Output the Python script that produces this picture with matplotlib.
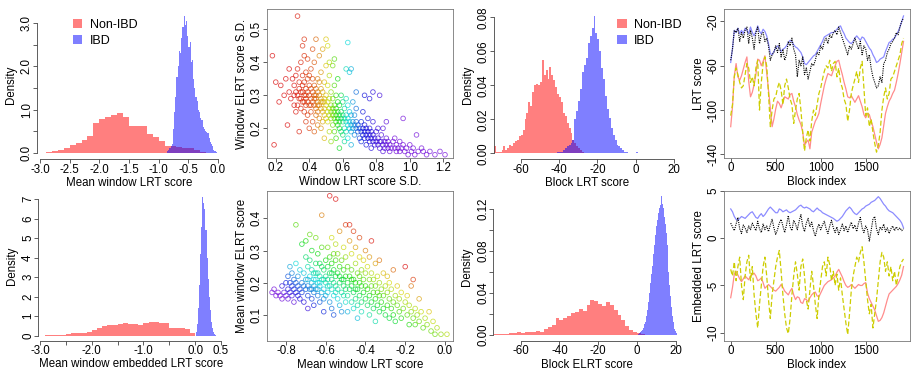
import numpy as np
import matplotlib
matplotlib.use("Agg")
import matplotlib.pyplot as plt
from matplotlib.patches import Patch
from matplotlib.colors import hsv_to_rgb

plt.rcParams['font.family'] = ['Liberation Sans', 'DejaVu Sans']
plt.rcParams['axes.unicode_minus'] = False

W, H = 911, 373
FS = 8.3
AX_COL = '#444444'
RED = (1, 0, 0, 0.5)
BLUE = (0, 0, 1, 0.5)
legend_labels = ['Non-IBD', 'IBD']

# ---------------- Panel 1: Mean window LRT score histogram ----------------
p1_nonibd_start, p1_nonibd_width = -3.0, 0.1
p1_nonibd = [0.01, 0.02, 0.04, 0.06, 0.12, 0.18, 0.22, 0.31, 0.39, 0.70,
             0.79, 0.83, 0.87, 0.92, 0.83, 0.63, 0.63, 0.62, 0.44, 0.36,
             0.28, 0.17, 0.16, 0.13, 0.12, 0.12, 0.08, 0.02]
p1_ibd_start, p1_ibd_width = -0.86, 0.02
p1_ibd = [0.04, 0.08, 0.12, 0.15, 0.20, 0.55, 0.95, 1.30, 1.75, 2.00,
          2.35, 2.30, 2.65, 2.90, 3.15, 2.95, 3.05, 2.70, 2.45, 2.55,
          2.10, 2.15, 1.70, 1.50, 1.30, 1.20, 1.00, 0.95, 0.80, 0.75,
          0.60, 0.55, 0.50, 0.48, 0.45, 0.35, 0.25, 0.20, 0.15, 0.08,
          0.05, 0.02]
p1_xticks = [-3.0, -2.5, -2.0, -1.5, -1.0, -0.5, 0.0]
p1_xticklabels = ['-3.0', '-2.5', '-2.0', '-1.5', '-1.0', '-0.5', '0.0']
p1_yticks = [0.0, 0.5, 1.0, 1.5, 2.0, 2.5, 3.0]
p1_yticklabels = ['0.0', '', '1.0', '', '2.0', '', '3.0']

# ---------------- Panel 3: Block LRT score histogram ----------------
p3_nonibd_start, p3_nonibd_width = -74, 1
p3_nonibd = [0.004, 0.001, 0.001, 0.001, 0.002, 0.004, 0.002, 0.003, 0.005, 0.004,
             0.006, 0.007, 0.008, 0.010, 0.011, 0.014, 0.020, 0.024, 0.030, 0.028,
             0.036, 0.040, 0.041, 0.040, 0.042, 0.055, 0.046, 0.049, 0.044, 0.051,
             0.046, 0.043, 0.039, 0.035, 0.033, 0.030, 0.024, 0.022, 0.018, 0.015,
             0.012, 0.008, 0.006, 0.004, 0.003, 0.002, 0.001]
p3_ibd_start, p3_ibd_width = -41, 1
p3_ibd = [0.0005, 0.001, 0.001, 0.002, 0.003, 0.004, 0.005, 0.006, 0.008, 0.020,
          0.025, 0.031, 0.038, 0.048, 0.052, 0.056, 0.065, 0.069, 0.074, 0.081,
          0.071, 0.067, 0.060, 0.050, 0.044, 0.034, 0.026, 0.021, 0.015, 0.011,
          0.008, 0.005, 0.004, 0.003, 0.002, 0.001, 0.001, 0.0, 0.0, 0.0,
          0.0, 0.001]
p3_xticks = [-60, -40, -20, 0, 20]
p3_xticklabels = ['-60', '-40', '-20', '0', '20']
p3_yticks = [0.00, 0.02, 0.04, 0.06, 0.08]
p3_yticklabels = ['0.00', '0.02', '0.04', '0.06', '0.08']

# ---------------- Panel 5: Mean window embedded LRT score histogram ----------------
p5_nonibd_start, p5_nonibd_width = -3.0, 0.1
p5_nonibd = [0.01, 0.015, 0.02, 0.025, 0.03, 0.10, 0.12, 0.13, 0.16, 0.21,
             0.27, 0.38, 0.50, 0.55, 0.55, 0.58, 0.63, 0.60, 0.62, 0.56,
             0.66, 0.70, 0.70, 0.64, 0.63, 0.42, 0.41, 0.41, 0.32, 0.12]
p5_ibd_start, p5_ibd_width = 0.02, 0.02
p5_ibd = [0.2, 0.6, 1.4, 2.6, 4.2, 5.6, 7.1, 6.8, 6.5, 5.4,
          4.0, 2.9, 2.0, 1.3, 0.7, 0.4, 0.2, 0.1, 0.05]
p5_xticks = [-3.0, -2.5, -2.0, -1.5, -1.0, -0.5, 0.0, 0.5]
p5_xticklabels = ['-3.0', '', '-2.0', '', '-1.0', '', '0.0', '0.5']
p5_yticks = [0, 1, 2, 3, 4, 5, 6, 7]
p5_yticklabels = ['0', '1', '2', '3', '4', '5', '6', '7']

# ---------------- Panel 7: Block ELRT score histogram ----------------
p7_nonibd_start, p7_nonibd_width = -74, 2
p7_nonibd = [0.0005, 0.0005, 0.001, 0.001, 0.0015, 0.002, 0.0025, 0.0015, 0.0025, 0.0025,
             0.003, 0.004, 0.003, 0.006, 0.008, 0.0095, 0.016, 0.014, 0.016, 0.018,
             0.021, 0.022, 0.025, 0.023, 0.029, 0.033, 0.032, 0.030, 0.028, 0.031,
             0.029, 0.024, 0.019, 0.014, 0.009, 0.005, 0.003, 0.002, 0.001]
p7_ibd_start, p7_ibd_width = 0.75, 0.5
p7_ibd = [0.001, 0.002, 0.003, 0.004, 0.005, 0.007, 0.010, 0.012,
          0.018, 0.024, 0.031, 0.040, 0.050, 0.058, 0.066, 0.077,
          0.086, 0.095, 0.104, 0.110, 0.116, 0.121, 0.124, 0.132,
          0.125, 0.121, 0.112, 0.106, 0.097, 0.086, 0.072, 0.060,
          0.048, 0.037, 0.027, 0.018, 0.012, 0.006, 0.004, 0.002]
p7_xticks = [-60, -40, -20, 0, 20]
p7_xticklabels = ['-60', '-40', '-20', '0', '20']
p7_yticks = [0.00, 0.02, 0.04, 0.06, 0.08, 0.10, 0.12]
p7_yticklabels = ['0.00', '', '0.04', '', '0.08', '', '0.12']

# ---------------- Panel 2: scatter of S.D.s ----------------
window_sd_pairs = [
    (0.18, 0.42), (0.19, 0.15), (0.20, 0.34), (0.22, 0.28), (0.23, 0.33), (0.25, 0.30),
    (0.26, 0.35), (0.27, 0.21), (0.28, 0.31), (0.28, 0.38), (0.29, 0.29), (0.30, 0.35),
    (0.31, 0.33), (0.31, 0.27), (0.32, 0.36), (0.32, 0.25), (0.33, 0.30), (0.33, 0.54),
    (0.33, 0.38), (0.34, 0.29), (0.34, 0.34), (0.34, 0.19), (0.35, 0.31), (0.35, 0.26),
    (0.35, 0.40), (0.36, 0.28), (0.36, 0.33), (0.36, 0.36), (0.36, 0.45), (0.37, 0.30),
    (0.37, 0.25), (0.37, 0.34), (0.37, 0.47), (0.37, 0.42), (0.38, 0.29), (0.38, 0.32),
    (0.38, 0.22), (0.38, 0.37), (0.38, 0.27), (0.39, 0.31), (0.39, 0.28), (0.39, 0.35),
    (0.39, 0.24), (0.39, 0.41), (0.40, 0.30), (0.40, 0.27), (0.40, 0.33), (0.40, 0.20),
    (0.40, 0.36), (0.31, 0.30), (0.32, 0.31), (0.33, 0.27), (0.34, 0.32), (0.35, 0.29),
    (0.36, 0.31), (0.37, 0.28), (0.38, 0.30),
    (0.41, 0.29), (0.41, 0.32), (0.41, 0.25), (0.41, 0.38), (0.42, 0.28), (0.42, 0.31),
    (0.42, 0.22), (0.42, 0.35), (0.42, 0.44), (0.43, 0.27), (0.43, 0.30), (0.43, 0.33),
    (0.43, 0.19), (0.43, 0.40), (0.44, 0.26), (0.44, 0.29), (0.44, 0.32), (0.44, 0.24),
    (0.44, 0.47), (0.45, 0.28), (0.45, 0.25), (0.45, 0.31), (0.45, 0.35), (0.45, 0.21),
    (0.46, 0.27), (0.46, 0.30), (0.46, 0.23), (0.46, 0.34), (0.46, 0.42), (0.47, 0.26),
    (0.47, 0.29), (0.47, 0.32), (0.47, 0.20), (0.47, 0.37), (0.48, 0.25), (0.48, 0.28),
    (0.48, 0.31), (0.48, 0.22), (0.48, 0.44), (0.49, 0.26), (0.49, 0.29), (0.49, 0.24),
    (0.49, 0.34), (0.49, 0.17), (0.50, 0.27), (0.50, 0.30), (0.50, 0.23), (0.50, 0.47),
    (0.50, 0.39), (0.41, 0.27), (0.43, 0.29), (0.45, 0.27), (0.47, 0.28), (0.49, 0.28),
    (0.44, 0.30),
    (0.51, 0.25), (0.51, 0.28), (0.51, 0.22), (0.51, 0.33), (0.51, 0.45), (0.52, 0.26),
    (0.52, 0.24), (0.52, 0.29), (0.52, 0.19), (0.52, 0.36), (0.53, 0.25), (0.53, 0.27),
    (0.53, 0.23), (0.53, 0.31), (0.53, 0.16), (0.54, 0.24), (0.54, 0.26), (0.54, 0.21),
    (0.54, 0.29), (0.54, 0.39), (0.55, 0.25), (0.55, 0.23), (0.55, 0.27), (0.55, 0.19),
    (0.55, 0.33), (0.56, 0.24), (0.56, 0.22), (0.56, 0.26), (0.56, 0.30), (0.56, 0.17),
    (0.57, 0.23), (0.57, 0.25), (0.57, 0.21), (0.57, 0.28), (0.57, 0.35), (0.58, 0.24),
    (0.58, 0.22), (0.58, 0.20), (0.58, 0.27), (0.58, 0.14), (0.59, 0.23), (0.59, 0.25),
    (0.59, 0.19), (0.59, 0.30), (0.60, 0.22), (0.60, 0.24), (0.60, 0.18), (0.60, 0.28),
    (0.52, 0.40), (0.55, 0.41),
    (0.61, 0.23), (0.61, 0.20), (0.61, 0.26), (0.61, 0.16), (0.62, 0.22), (0.62, 0.24),
    (0.62, 0.19), (0.62, 0.29), (0.62, 0.38), (0.63, 0.21), (0.63, 0.23), (0.63, 0.17),
    (0.63, 0.46), (0.63, 0.27), (0.64, 0.22), (0.64, 0.20), (0.64, 0.25), (0.64, 0.37),
    (0.65, 0.21), (0.65, 0.19), (0.65, 0.24), (0.65, 0.15), (0.66, 0.22), (0.66, 0.20),
    (0.66, 0.28), (0.67, 0.21), (0.67, 0.18), (0.67, 0.24), (0.68, 0.20), (0.68, 0.22),
    (0.68, 0.26), (0.69, 0.19), (0.69, 0.21), (0.70, 0.20), (0.70, 0.17),
    (0.71, 0.19), (0.71, 0.22), (0.71, 0.16), (0.72, 0.20), (0.72, 0.18), (0.72, 0.25),
    (0.73, 0.19), (0.73, 0.17), (0.73, 0.21), (0.73, 0.30), (0.74, 0.18), (0.74, 0.20),
    (0.74, 0.15), (0.75, 0.19), (0.75, 0.17), (0.75, 0.23), (0.76, 0.18), (0.76, 0.16),
    (0.76, 0.20), (0.76, 0.29), (0.77, 0.17), (0.77, 0.19), (0.77, 0.14), (0.78, 0.18),
    (0.78, 0.16), (0.78, 0.22), (0.79, 0.17), (0.79, 0.15), (0.80, 0.16), (0.80, 0.19),
    (0.81, 0.17), (0.81, 0.15), (0.81, 0.20), (0.82, 0.16), (0.82, 0.14), (0.82, 0.30),
    (0.83, 0.16), (0.83, 0.18), (0.84, 0.15), (0.84, 0.13), (0.84, 0.20), (0.85, 0.16),
    (0.85, 0.14), (0.86, 0.15), (0.86, 0.17), (0.86, 0.22), (0.87, 0.14), (0.87, 0.16),
    (0.88, 0.15), (0.88, 0.13), (0.89, 0.14), (0.90, 0.16),
    (0.91, 0.14), (0.91, 0.17), (0.92, 0.13), (0.92, 0.15), (0.93, 0.14), (0.94, 0.16),
    (0.94, 0.13), (0.95, 0.14), (0.96, 0.23), (0.96, 0.15), (0.97, 0.13), (0.98, 0.14),
    (0.99, 0.12), (1.00, 0.15),
    (1.01, 0.13), (1.02, 0.14), (1.03, 0.12), (1.04, 0.18), (1.05, 0.13), (1.07, 0.14),
    (1.08, 0.13), (1.10, 0.12), (1.12, 0.13), (1.15, 0.12), (1.18, 0.13), (1.21, 0.12),
    (0.68, 0.31), (0.78, 0.31), (0.65, 0.38),
]
p2_xticks = [0.2, 0.4, 0.6, 0.8, 1.0, 1.2]
p2_xticklabels = ['0.2', '0.4', '0.6', '0.8', '1.0', '1.2']
p2_yticks = [0.2, 0.3, 0.4, 0.5]
p2_yticklabels = ['0.2', '0.3', '0.4', '0.5']

# ---------------- Panel 6: scatter of window means ----------------
window_mean_pairs = [
    (-0.87, 0.17), (-0.86, 0.18), (-0.85, 0.16), (-0.84, 0.17), (-0.83, 0.16), (-0.82, 0.15),
    (-0.82, 0.19), (-0.81, 0.17), (-0.80, 0.20), (-0.80, 0.16),
    (-0.79, 0.18), (-0.79, 0.15), (-0.79, 0.22), (-0.78, 0.17), (-0.78, 0.20), (-0.78, 0.25),
    (-0.77, 0.16), (-0.77, 0.19), (-0.77, 0.23), (-0.76, 0.18), (-0.76, 0.14), (-0.76, 0.21),
    (-0.75, 0.17), (-0.75, 0.38), (-0.75, 0.20), (-0.75, 0.26), (-0.74, 0.16), (-0.74, 0.19),
    (-0.74, 0.22), (-0.73, 0.15), (-0.73, 0.18), (-0.73, 0.24), (-0.72, 0.17), (-0.72, 0.20),
    (-0.72, 0.32), (-0.71, 0.14), (-0.71, 0.19), (-0.71, 0.23), (-0.70, 0.18), (-0.70, 0.28),
    (-0.70, 0.21), (-0.70, 0.33), (-0.69, 0.16), (-0.69, 0.19), (-0.69, 0.25), (-0.69, 0.12),
    (-0.68, 0.18), (-0.68, 0.22), (-0.68, 0.27), (-0.68, 0.35), (-0.67, 0.15), (-0.67, 0.20),
    (-0.67, 0.24), (-0.67, 0.30), (-0.66, 0.17), (-0.66, 0.19), (-0.66, 0.23), (-0.66, 0.13),
    (-0.65, 0.21), (-0.65, 0.18), (-0.65, 0.26), (-0.65, 0.34), (-0.64, 0.16), (-0.64, 0.20),
    (-0.64, 0.23), (-0.64, 0.29), (-0.63, 0.14), (-0.63, 0.19), (-0.63, 0.22), (-0.63, 0.26),
    (-0.62, 0.17), (-0.62, 0.21), (-0.62, 0.41), (-0.62, 0.31), (-0.61, 0.15), (-0.61, 0.18),
    (-0.61, 0.24), (-0.61, 0.11), (-0.60, 0.20), (-0.60, 0.22), (-0.60, 0.27), (-0.60, 0.16),
    (-0.69, 0.21), (-0.67, 0.18), (-0.65, 0.23), (-0.63, 0.20), (-0.61, 0.21), (-0.62, 0.25),
    (-0.66, 0.21), (-0.64, 0.18),
    (-0.59, 0.17), (-0.59, 0.21), (-0.59, 0.25), (-0.59, 0.31), (-0.58, 0.14), (-0.58, 0.19),
    (-0.58, 0.23), (-0.58, 0.28), (-0.58, 0.47), (-0.57, 0.12), (-0.57, 0.18), (-0.57, 0.21),
    (-0.57, 0.26), (-0.57, 0.34), (-0.56, 0.16), (-0.56, 0.20), (-0.56, 0.24), (-0.56, 0.10),
    (-0.55, 0.19), (-0.55, 0.22), (-0.55, 0.27), (-0.55, 0.32), (-0.55, 0.46), (-0.54, 0.15),
    (-0.54, 0.18), (-0.54, 0.23), (-0.54, 0.29), (-0.53, 0.13), (-0.53, 0.20), (-0.53, 0.25),
    (-0.53, 0.36), (-0.52, 0.17), (-0.52, 0.21), (-0.52, 0.27), (-0.52, 0.11), (-0.51, 0.16),
    (-0.51, 0.19), (-0.51, 0.24), (-0.51, 0.31), (-0.50, 0.14), (-0.50, 0.18), (-0.50, 0.22),
    (-0.50, 0.28), (-0.50, 0.38), (-0.59, 0.19), (-0.57, 0.23), (-0.55, 0.17), (-0.53, 0.22),
    (-0.51, 0.21), (-0.56, 0.29),
    (-0.49, 0.16), (-0.49, 0.20), (-0.49, 0.25), (-0.49, 0.11), (-0.48, 0.18), (-0.48, 0.22),
    (-0.48, 0.33), (-0.48, 0.38), (-0.47, 0.14), (-0.47, 0.19), (-0.47, 0.24), (-0.47, 0.29),
    (-0.46, 0.12), (-0.46, 0.17), (-0.46, 0.21), (-0.46, 0.36), (-0.45, 0.15), (-0.45, 0.20),
    (-0.45, 0.26), (-0.45, 0.31), (-0.44, 0.13), (-0.44, 0.18), (-0.44, 0.23), (-0.44, 0.09),
    (-0.43, 0.16), (-0.43, 0.20), (-0.43, 0.28), (-0.43, 0.34), (-0.42, 0.14), (-0.42, 0.19),
    (-0.42, 0.24), (-0.42, 0.11), (-0.41, 0.17), (-0.41, 0.21), (-0.41, 0.27), (-0.40, 0.15),
    (-0.40, 0.19), (-0.40, 0.23), (-0.40, 0.30), (-0.47, 0.21), (-0.45, 0.18), (-0.43, 0.22),
    (-0.39, 0.13), (-0.39, 0.18), (-0.39, 0.25), (-0.38, 0.16), (-0.38, 0.21), (-0.38, 0.10),
    (-0.38, 0.28), (-0.37, 0.14), (-0.37, 0.19), (-0.37, 0.23), (-0.37, 0.33), (-0.36, 0.12),
    (-0.36, 0.17), (-0.36, 0.21), (-0.35, 0.15), (-0.35, 0.19), (-0.35, 0.26), (-0.35, 0.08),
    (-0.34, 0.13), (-0.34, 0.17), (-0.34, 0.22), (-0.33, 0.11), (-0.33, 0.16), (-0.33, 0.20),
    (-0.33, 0.27), (-0.32, 0.14), (-0.32, 0.18), (-0.31, 0.12), (-0.31, 0.16), (-0.31, 0.23),
    (-0.30, 0.10), (-0.30, 0.19),
    (-0.29, 0.13), (-0.29, 0.17), (-0.29, 0.22), (-0.28, 0.09), (-0.28, 0.15), (-0.28, 0.20),
    (-0.27, 0.12), (-0.27, 0.18), (-0.26, 0.10), (-0.26, 0.14), (-0.26, 0.24), (-0.25, 0.16),
    (-0.25, 0.08), (-0.24, 0.13), (-0.24, 0.19), (-0.23, 0.11), (-0.23, 0.15), (-0.22, 0.09),
    (-0.22, 0.17), (-0.21, 0.12), (-0.20, 0.25), (-0.20, 0.14),
    (-0.19, 0.10), (-0.19, 0.16), (-0.18, 0.07), (-0.18, 0.13), (-0.17, 0.19), (-0.17, 0.11),
    (-0.16, 0.09), (-0.16, 0.21), (-0.15, 0.12), (-0.15, 0.07), (-0.14, 0.10), (-0.13, 0.15),
    (-0.13, 0.08), (-0.12, 0.11), (-0.11, 0.06), (-0.10, 0.09),
    (-0.09, 0.07), (-0.08, 0.11), (-0.07, 0.05), (-0.06, 0.08), (-0.05, 0.04), (-0.04, 0.06),
    (-0.02, 0.04), (0.01, 0.04),
]
p6_xticks = [-0.8, -0.6, -0.4, -0.2, 0.0]
p6_xticklabels = ['-0.8', '-0.6', '-0.4', '-0.2', '0.0']
p6_yticks = [0.1, 0.2, 0.3, 0.4]
p6_yticklabels = ['0.1', '0.2', '0.3', '0.4']

# ---------------- Panels 4 and 8: scores along the chromosome ----------------
block_index = list(range(0, 1921, 20))

lrt_blue = [-57, -44, -28, -30, -26, -31, -28, -31, -26, -28,
            -31, -25, -30, -33, -29, -24, -29, -31, -27, -29,
            -33, -40, -49, -50, -47, -44, -42, -44, -47, -45,
            -44, -42, -39, -37, -38, -41, -43, -44, -46, -48,
            -52, -58, -59, -57, -55, -53, -51, -50, -47, -44,
            -41, -38, -34, -33, -32, -31, -30, -30, -29, -27,
            -25, -24, -28, -31, -35, -37, -39, -40, -38, -35,
            -33, -35, -37, -34, -35, -38, -41, -44, -46, -50,
            -53, -57, -56, -54, -53, -52, -47, -43, -39, -38,
            -36, -35, -32, -29, -25, -20, -15]
lrt_black = [-55, -45, -28, -30, -26, -38, -30, -35, -28, -25,
             -40, -28, -35, -45, -30, -25, -40, -32, -30, -38,
             -35, -42, -55, -50, -48, -42, -48, -40, -52, -45,
             -55, -50, -38, -42, -35, -45, -50, -70, -55, -60,
             -52, -68, -62, -72, -65, -58, -60, -55, -48, -50,
             -42, -45, -38, -35, -40, -32, -35, -30, -28, -32,
             -25, -30, -35, -40, -45, -50, -42, -45, -40, -35,
             -40, -45, -38, -50, -42, -45, -55, -50, -62, -70,
             -75, -80, -78, -70, -75, -58, -55, -48, -45, -40,
             -38, -35, -30, -32, -25, -20, -17]
lrt_red = [-115, -97, -69, -58, -70, -73, -69, -63, -57, -52,
           -74, -88, -84, -77, -68, -54, -55, -60, -56, -51,
           -66, -82, -98, -115, -108, -99, -92, -94, -98, -93,
           -88, -89, -90, -86, -85, -92, -97, -104, -109, -113,
           -120, -132, -129, -127, -135, -120, -115, -110, -107, -103,
           -94, -86, -78, -72, -67, -68, -69, -64, -60, -56,
           -55, -62, -68, -75, -81, -88, -89, -87, -90, -93,
           -90, -87, -92, -97, -104, -107, -103, -104, -110, -115,
           -122, -129, -135, -131, -125, -114, -103, -97, -92, -89,
           -85, -82, -75, -67, -58, -48, -38]
lrt_yellow = [-105, -95, -70, -62, -68, -75, -80, -78, -68, -58,
              -62, -75, -70, -78, -62, -55, -100, -75, -58, -52,
              -60, -85, -115, -100, -90, -88, -80, -75, -82, -95,
              -78, -72, -80, -90, -95, -112, -100, -90, -85, -100,
              -120, -137, -125, -118, -128, -110, -100, -105, -95, -85,
              -80, -72, -65, -60, -62, -55, -65, -58, -56, -70,
              -62, -75, -80, -90, -95, -110, -100, -85, -78, -72,
              -65, -75, -62, -56, -80, -105, -98, -115, -108, -120,
              -130, -138, -132, -120, -100, -88, -80, -90, -85, -72,
              -70, -65, -60, -55, -50, -40, -35]

elrt_blue = [3.1, 2.8, 2.3, 2.0, 1.9, 2.1, 2.3, 2.2, 2.1, 2.3,
             2.5, 2.7, 2.8, 2.5, 2.2, 2.1, 2.4, 2.6, 2.3, 2.5,
             2.8, 3.1, 3.3, 3.1, 2.9, 2.7, 2.7, 3.1, 3.0, 2.8,
             2.9, 3.0, 2.8, 2.7, 2.8, 2.9, 3.0, 3.2, 3.4, 3.5,
             3.3, 3.2, 3.3, 3.2, 3.1, 2.9, 2.8, 3.0, 3.2, 3.0,
             2.9, 2.7, 2.6, 2.5, 2.4, 2.3, 2.2, 2.1, 1.95, 1.8,
             1.9, 2.1, 2.3, 2.6, 2.9, 3.1, 3.3, 3.1, 2.8, 2.6,
             2.5, 2.7, 2.9, 3.1, 3.2, 3.4, 3.5, 3.6, 3.8, 3.9,
             4.0, 4.2, 4.4, 4.2, 3.9, 3.6, 3.4, 3.1, 2.9, 2.8,
             2.7, 2.5, 2.3, 2.1, 1.9, 1.6, 1.1]
elrt_black = [1.6, 1.2, 0.8, 1.5, 2.2, 1.0, 0.5, 1.4, 1.1, 0.6,
              1.3, 0.9, 1.6, 1.2, 0.8, 1.8, 1.0, 0.6, 1.5, 0.9,
              1.3, 0.7, 1.4, 2.0, 1.1, 0.4, 0.9, 1.6, 2.0, 1.3,
              0.6, 1.4, 2.4, 1.2, 0.8, 1.9, 1.5, 0.9, 1.8, 2.5,
              1.3, 0.7, 1.6, 2.1, 1.2, 1.7, 0.8, 0.2, 1.0, 1.5,
              0.9, 1.4, 1.8, 1.0, 0.5, 1.3, 1.9, 1.1, 0.6, 1.2,
              0.4, 0.9, 1.5, 0.8, 1.3, 0.6, 1.2, 1.7, 1.0, 1.4,
              0.7, 1.6, 2.2, 1.1, 0.6, 1.3, 0.9, -0.3, 0.8, 2.0,
              2.3, 1.0, 0.4, 1.2, 0.9, 1.5, 0.7, 1.1, 0.5, 1.0,
              1.3, 0.8, 1.2, 0.9, 1.1, 0.8, 1.0]
elrt_red = [-6.3, -5.2, -3.8, -3.5, -3.9, -4.3, -4.6, -4.3, -4.0, -4.2,
            -4.4, -4.0, -3.8, -3.7, -4.0, -4.5, -4.4, -4.2, -4.7, -5.3,
            -5.1, -4.9, -5.1, -5.3, -5.5, -5.6, -5.4, -5.2, -4.9, -5.2,
            -5.6, -5.8, -6.0, -5.6, -5.3, -6.0, -6.5, -6.2, -6.3, -6.8,
            -6.9, -6.4, -6.5, -6.7, -6.3, -6.0, -5.8, -5.7, -6.1, -6.2,
            -5.8, -5.4, -5.0, -4.8, -4.6, -4.5, -4.4, -4.2, -4.0, -3.6,
            -3.3, -3.7, -4.1, -4.6, -5.0, -5.2, -5.1, -4.9, -5.1, -5.3,
            -5.1, -4.9, -5.0, -5.0, -4.8, -4.7, -5.8, -6.4, -6.8, -7.2,
            -7.6, -8.2, -8.8, -8.7, -8.4, -7.9, -7.2, -6.5, -5.9, -5.7,
            -5.5, -5.3, -5.1, -4.8, -4.4, -3.9, -3.0]
elrt_yellow = [-3.3, -4.0, -2.5, -4.5, -3.0, -2.0, -5.0, -6.5, -4.0, -2.5,
               -1.8, -4.5, -3.0, -6.0, -8.0, -9.5, -7.0, -5.0, -3.0, -2.0,
               -4.0, -6.5, -8.5, -6.0, -4.5, -3.0, -2.0, -1.3, -3.5, -6.0,
               -8.0, -9.5, -10.1, -8.5, -6.0, -4.0, -2.5, -3.8, -5.5, -3.0,
               -2.2, -4.0, -6.5, -7.5, -5.5, -3.5, -5.0, -7.0, -8.5, -6.0,
               -4.5, -3.0, -2.5, -4.0, -2.0, -2.8, -4.5, -3.5, -5.0, -3.8,
               -5.5, -4.2, -6.0, -7.5, -9.0, -10.2, -8.0, -5.5, -4.0, -3.0,
               -2.0, -2.5, -1.5, -0.9, -2.5, -4.5, -6.5, -8.0, -7.0, -9.5,
               -8.0, -6.5, -4.5, -2.5, -1.5, -2.0, -3.5, -2.5, -4.0, -3.0,
               -4.5, -3.5, -5.0, -4.0, -3.0, -2.5, -2.2]
line_xticks = [0, 500, 1000, 1500]
line_xticklabels = ['0', '500', '1000', '1500']
p4_yticks = [-140, -100, -60, -20]
p4_yticklabels = ['-140', '-100', '-60', '-20']
p8_yticks = [-10, -5, 0, 5]
p8_yticklabels = ['-10', '-5', '0', '5']

# =====================================================================
fig = plt.figure(figsize=(W / 100, H / 100), dpi=100)


def rect(l, t, r, b):
    return [l / W, 1 - b / H, (r - l) / W, (b - t) / H]


def setup_ticks(ax, xt, xl, yt, yl):
    ax.set_xticks(xt)
    ax.set_xticklabels(xl)
    ax.set_yticks(yt)
    ax.set_yticklabels(yl, rotation=90, va='center')
    ax.tick_params(direction='out', length=3.0, width=0.6, color=AX_COL,
                   labelsize=FS, pad=0.3)
    ax.tick_params(axis='y', pad=0)


def hist_panel(pos, xlim, ylim, series, xt, xl, yt, yl, xlabel):
    ax = fig.add_axes(rect(*pos))
    for (start, width, heights), col in series:
        edges = start + width * np.arange(len(heights) + 1)
        ax.stairs(heights, edges, fill=True, color=col, linewidth=0)
    ax.set_xlim(xlim)
    ax.set_ylim(ylim)
    for s in ['top', 'right']:
        ax.spines[s].set_visible(False)
    for s in ['left', 'bottom']:
        ax.spines[s].set_color(AX_COL)
        ax.spines[s].set_linewidth(0.6)
    ax.spines['left'].set_bounds(yt[0], yt[-1])
    ax.spines['bottom'].set_bounds(xt[0], xt[-1])
    setup_ticks(ax, xt, xl, yt, yl)
    ax.set_xlabel(xlabel, fontsize=FS, labelpad=1)
    ax.set_ylabel('Density', fontsize=FS, labelpad=3)
    return ax


def box_panel(pos, xlim, ylim, xt, xl, yt, yl, xlabel, ylabel, ylp=2):
    ax = fig.add_axes(rect(*pos))
    ax.set_xlim(xlim)
    ax.set_ylim(ylim)
    for s in ax.spines.values():
        s.set_color('#777777')
        s.set_linewidth(0.6)
    setup_ticks(ax, xt, xl, yt, yl)
    ax.set_xlabel(xlabel, fontsize=FS, labelpad=1)
    ax.set_ylabel(ylabel, fontsize=FS, labelpad=ylp)
    return ax


def legend(ax, anchor):
    handles = [Patch(facecolor=RED, edgecolor='none', label=legend_labels[0]),
               Patch(facecolor=BLUE, edgecolor='none', label=legend_labels[1])]
    ax.legend(handles=handles, loc='upper left', bbox_to_anchor=anchor,
              frameon=False, fontsize=FS + 0.7, handlelength=0.75, handleheight=0.75,
              handletextpad=0.6, labelspacing=0.3, borderaxespad=0, borderpad=0)


# Panel 1
ax1 = hist_panel((37, 10, 221, 159), (-3.0506, 0.0506), (-0.1385, 3.3),
                 [((p1_nonibd_start, p1_nonibd_width, p1_nonibd), RED),
                  ((p1_ibd_start, p1_ibd_width, p1_ibd), BLUE)],
                 p1_xticks, p1_xticklabels, p1_yticks, p1_yticklabels,
                 'Mean window LRT score')
legend(ax1, (0.194, 0.94))

# Panel 3
ax3 = hist_panel((494, 10, 680, 159.3), (-73.93, 23.1), (-0.00353, 0.0843),
                 [((p3_nonibd_start, p3_nonibd_width, p3_nonibd), RED),
                  ((p3_ibd_start, p3_ibd_width, p3_ibd), BLUE)],
                 p3_xticks, p3_xticklabels, p3_yticks, p3_yticklabels,
                 'Block LRT score')
legend(ax3, (0.663, 0.94))

# Panel 5
ax5 = hist_panel((38.3, 192, 223, 340.5), (-3.033, 0.539), (-0.246, 7.37),
                 [((p5_nonibd_start, p5_nonibd_width, p5_nonibd), RED),
                  ((p5_ibd_start, p5_ibd_width, p5_ibd), BLUE)],
                 p5_xticks, p5_xticklabels, p5_yticks, p5_yticklabels,
                 'Mean window embedded LRT score')

# Panel 7
ax7 = hist_panel((493.3, 192, 680, 340.7), (-74.14, 22.2), (-0.00543, 0.1362),
                 [((p7_nonibd_start, p7_nonibd_width, p7_nonibd), RED),
                  ((p7_ibd_start, p7_ibd_width, p7_ibd), BLUE)],
                 p7_xticks, p7_xticklabels, p7_yticks, p7_yticklabels,
                 'Block ELRT score')

# Panel 2 scatter
ax2 = box_panel((266.7, 9.3, 452.7, 157.7), (0.146, 1.256), (0.111, 0.5606),
                p2_xticks, p2_xticklabels, p2_yticks, p2_yticklabels,
                'Window LRT score S.D.', 'Window ELRT score S.D.')
sx, sy = np.array(window_sd_pairs).T
hue2 = np.interp(sx, [0.30, 0.42, 0.50, 0.56, 0.63, 0.72, 0.90],
                 [0.0, 0.05, 0.15, 0.30, 0.50, 0.66, 0.75])
cols2 = hsv_to_rgb(np.column_stack([hue2, np.ones_like(hue2), np.full_like(hue2, 0.85)]))
ax2.scatter(sx, sy, s=11, facecolors='none',
            edgecolors=np.column_stack([cols2, np.full(len(sx), 0.7)]), linewidths=0.6)

# Panel 6 scatter
ax6 = box_panel((266.7, 191, 453.3, 340.7), (-0.897, 0.042), (0.020, 0.485),
                p6_xticks, p6_xticklabels, p6_yticks, p6_yticklabels,
                'Mean window LRT score', 'Mean window ELRT score')
mx, my = np.array(window_mean_pairs).T
hue6 = np.clip(0.75 * (0.15 - (my + 0.5 * mx)) / 0.40, 0, 0.75)
cols6 = hsv_to_rgb(np.column_stack([hue6, np.ones_like(hue6), np.full_like(hue6, 0.85)]))
ax6.scatter(mx, my, s=11, facecolors='none',
            edgecolors=np.column_stack([cols6, np.full(len(mx), 0.7)]), linewidths=0.6)


def line_panel(ax, red, yellow, blue, black):
    ax.plot(block_index[:len(red)], red, color=(1, 0, 0, 0.45), lw=0.9)
    ax.plot(block_index[:len(yellow)], yellow, color='#CDCD00', lw=0.9, ls=(0, (4, 2)))
    ax.plot(block_index[:len(blue)], blue, color=(0, 0, 1, 0.45), lw=0.9)
    ax.plot(block_index[:len(black)], black, color='k', lw=0.8, ls=(0, (1, 1)))


ax4 = box_panel((723.5, 9.3, 910, 157.7), (-80, 1992), (-143, -9),
                line_xticks, line_xticklabels, p4_yticks, p4_yticklabels,
                'Block index', 'LRT score')
line_panel(ax4, lrt_red, lrt_yellow, lrt_blue, lrt_black)

ax8 = box_panel((723.5, 191, 910, 340.7), (-80, 1992), (-10.85, 5.0),
                line_xticks, line_xticklabels, p8_yticks, p8_yticklabels,
                'Block index', 'Embedded LRT score')
line_panel(ax8, elrt_red, elrt_yellow, elrt_blue, elrt_black)

fig.savefig('out.png', dpi=100)
